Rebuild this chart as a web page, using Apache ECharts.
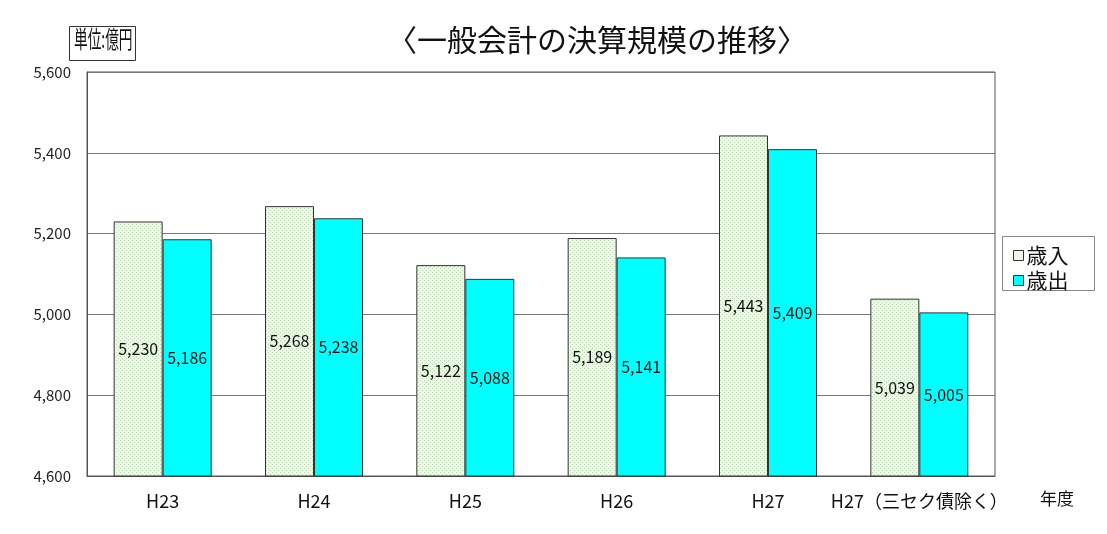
<!DOCTYPE html>
<html><head><meta charset="utf-8">
<script src="https://cdn.jsdelivr.net/npm/echarts@6/dist/echarts.min.js"></script>
<style>html,body{margin:0;padding:0;background:#fff}#c{width:1107px;height:534px}</style>
</head><body><div id="c"></div>
<script>
var categories = ['H23','H24','H25','H26','H27','H27（三セク債除く）'];
var revenue = [5230,5268,5122,5189,5443,5039];
var expenditure = [5186,5238,5088,5141,5409,5005];
var yTicks = [4600,4800,5000,5200,5400,5600];
var seriesNames = ['歳入','歳出'];

var cv = document.createElement('canvas');
cv.width = 4; cv.height = 4;
var cx = cv.getContext('2d');
cx.fillStyle = '#eef6ea'; cx.fillRect(0,0,4,4);
cx.fillStyle = '#b9d6b0'; cx.fillRect(0,0,1,1); cx.fillRect(2,2,1,1);

var font = '"Liberation Sans Narrow","Noto Sans CJK JP",sans-serif';
var jp = '"Noto Sans CJK JP",sans-serif';
var fmt = function(v){return Number(v).toLocaleString('en-US');};
var chart = echarts.init(document.getElementById('c'));
chart.setOption({
  animation:false,
  textStyle:{fontFamily:font},
  title:{text:'〈一般会計の決算規模の推移〉',left:592,top:20,textAlign:'center',
    textStyle:{fontFamily:jp,fontSize:30,fontWeight:'normal',color:'#111'}},
  graphic:[{type:'rect',shape:{x:69.5,y:26.5,width:66,height:34},style:{fill:'#fff',stroke:'#333',lineWidth:1}},
    {type:'text',x:74,y:27,scaleX:0.57,style:{text:'単位:億円',fontSize:24,fontFamily:'Noto Sans CJK JP',fill:'#111'}},
    {type:'rect',shape:{x:1002.5,y:236.5,width:92,height:54},style:{fill:'#fff',stroke:'#888',lineWidth:1}}],
  legend:{orient:'vertical',left:1008,top:240,itemWidth:10,itemHeight:10,itemGap:4,icon:'rect',
    textStyle:{fontFamily:jp,fontSize:21,color:'#111',padding:[0,0,0,-2]},
    data:[{name:seriesNames[0],itemStyle:{color:'#eef6ea',borderColor:'#333',borderWidth:1}},
          {name:seriesNames[1],itemStyle:{color:'#00ffff',borderColor:'#333',borderWidth:1}}]},
  grid:{left:87,right:112,top:72,bottom:58,show:true,borderColor:'#555',borderWidth:1},
  xAxis:{type:'category',data:categories,name:'年度',nameLocation:'end',nameGap:0,
    nameTextStyle:{fontFamily:jp,fontSize:17,color:'#111',align:'left',verticalAlign:'top',padding:[14,0,0,45]},
    axisLine:{lineStyle:{color:'#555'}},
    axisTick:{inside:true,length:5,lineStyle:{color:'#555'}},
    axisLabel:{interval:0,margin:16,fontSize:18,color:'#111',fontFamily:font}},
  yAxis:{type:'value',min:4600,max:5600,interval:200,
    axisLine:{show:true,lineStyle:{color:'#555'}},axisTick:{show:false},
    splitLine:{lineStyle:{color:'#777',width:1}},
    axisLabel:{fontSize:15,color:'#222',margin:16,formatter:fmt}},
  series:[
    {name:seriesNames[0],type:'bar',data:revenue,barWidth:49,barGap:'0%',
     itemStyle:{color:{image:cv,repeat:'repeat'},borderColor:'#333',borderWidth:1},
     label:{show:true,position:'inside',fontSize:16,color:'#111',formatter:function(p){return fmt(p.value);}}},
    {name:seriesNames[1],type:'bar',data:expenditure,barWidth:49,
     itemStyle:{color:'#00ffff',borderColor:'#333',borderWidth:1},
     label:{show:true,position:'inside',fontSize:16,color:'#111',formatter:function(p){return fmt(p.value);}}}
  ]
});
</script></body></html>
